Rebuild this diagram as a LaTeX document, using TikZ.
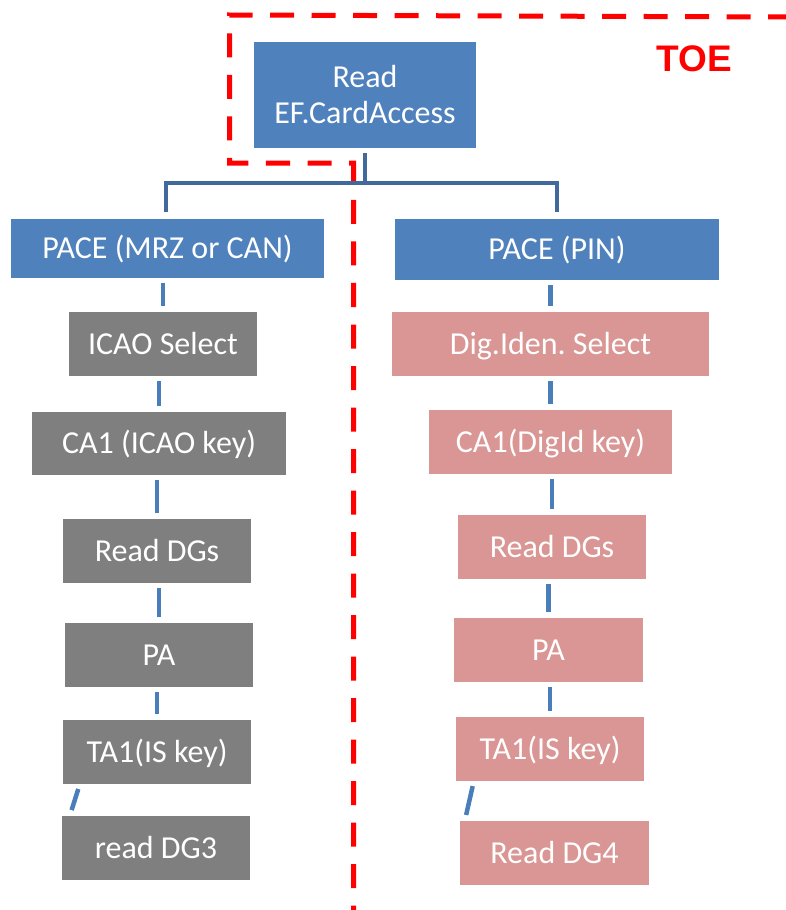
\documentclass[tikz,border=0pt]{standalone}
\usepackage{fontspec}
\setmainfont{Carlito}
\newfontfamily\toefont{Liberation Sans}
\frenchspacing
\definecolor{boxblue}{HTML}{4F81BD}
\definecolor{boxgray}{HTML}{7F7F7F}
\definecolor{boxpink}{HTML}{D99694}
\definecolor{connblue}{HTML}{4A7EBB}
\definecolor{treeblue}{HTML}{41699C}
\definecolor{toered}{HTML}{FF0000}
\tikzset{
  box/.style={rectangle, inner sep=0pt, text=white,
    font=\fontsize{32pt}{37pt}\selectfont\frenchspacing, text height=20.6pt, text depth=0pt,
    minimum height=64pt},
  conn/.style={draw=connblue, line width=4.5pt, shorten <=5pt, shorten >=6pt},
  tree/.style={draw=treeblue, line width=4.3pt},
  toeline/.style={draw=toered, line width=5pt, dash pattern=on 24pt off 17.5pt}
}
\begin{document}
\begin{tikzpicture}[x=1pt,y=-1pt]
\useasboundingbox (0,0) rectangle (786,910);
\clip (0,0) rectangle (786,910);

% TOE boundary
\draw[toeline, dash phase=6pt] (786,17) -- (229.5,15) -- (229.5,163) -- (353.5,163) -- (353.5,925);
\node[text=toered, font=\toefont\bfseries\fontsize{37pt}{40pt}\selectfont,
  inner sep=0pt, text height=26.5pt, text depth=0pt] (toe) at (694.5,58.5) {TOE};

% top box
\node[rectangle, inner sep=0pt, fill=boxblue, text=white, align=center,
  font=\fontsize{32pt}{36.5pt}\selectfont,
  minimum width=222pt, minimum height=106pt] (top) at (365,94.5) {Read\\EF.CardAccess};

% PACE boxes
\node[box, fill=boxblue, minimum width=313pt, minimum height=59pt] (pacel) at (167.5,248.5) {PACE (MRZ or CAN)};
\node[box, fill=boxblue, minimum width=324pt, minimum height=61pt] (pacer) at (557,249.5) {PACE (PIN)};

% left column
\node[box, fill=boxgray, minimum width=188pt] (icao) at (163,344) {ICAO Select};
\node[box, fill=boxgray, minimum width=254pt, minimum height=63pt] (ca1l) at (159,443.5) {CA1 (ICAO key)};
\node[box, fill=boxgray, minimum width=188pt] (dgsl) at (157,551) {Read DGs};
\node[box, fill=boxgray, minimum width=188pt] (pal) at (159,655) {PA};
\node[box, fill=boxgray, minimum width=188pt] (ta1l) at (157,752) {TA1(IS key)};
\node[box, fill=boxgray, minimum width=188pt] (dg3) at (156,848) {read DG3};

% right column
\node[box, fill=boxpink, minimum width=317pt] (digsel) at (550.5,344) {Dig.Iden. Select};
\node[box, fill=boxpink, minimum width=243pt] (ca1r) at (550.5,442) {CA1(DigId key)};
\node[box, fill=boxpink, minimum width=188pt] (dgsr) at (552,547) {Read DGs};
\node[box, fill=boxpink, minimum width=189pt] (par) at (548.5,650) {PA};
\node[box, fill=boxpink, minimum width=188pt] (ta1r) at (550,749) {TA1(IS key)};
\node[box, fill=boxpink, minimum width=189pt] (dg4) at (554.5,853) {Read DG4};

% tree connector
\coordinate (bus) at (365,183);
\draw[tree] ([yshift=-5pt]top.south) -- (bus);
\draw[tree] ([xshift=-1.5pt,yshift=7pt]pacel.north) |- (bus) -| ([yshift=7pt]pacer.north);

% left connectors
\draw[conn] (pacel.south -| icao.north) -- (icao.north);
\draw[conn] (icao.south -| ca1l.north) -- (ca1l.north);
\draw[conn] (ca1l.south -| dgsl.north) -- (dgsl.north);
\draw[conn] (dgsl.south -| pal.north) -- (pal.north);
\draw[conn] (pal.south -| ta1l.north) -- (ta1l.north);
\draw[conn] ([xshift=17pt]ta1l.south west) -- ([xshift=8pt]dg3.north west);

% right connectors
\draw[conn] (pacer.south -| digsel.north) -- (digsel.north);
\draw[conn] (digsel.south -| ca1r.north) -- (ca1r.north);
\draw[conn] (ca1r.south -| dgsr.north) -- (dgsr.north);
\draw[conn] (dgsr.south -| par.north) -- (par.north);
\draw[conn] (par.south -| ta1r.north) -- (ta1r.north);
\draw[conn] ([xshift=18pt]ta1r.south west) -- ([xshift=5pt]dg4.north west);
\end{tikzpicture}
\end{document}
